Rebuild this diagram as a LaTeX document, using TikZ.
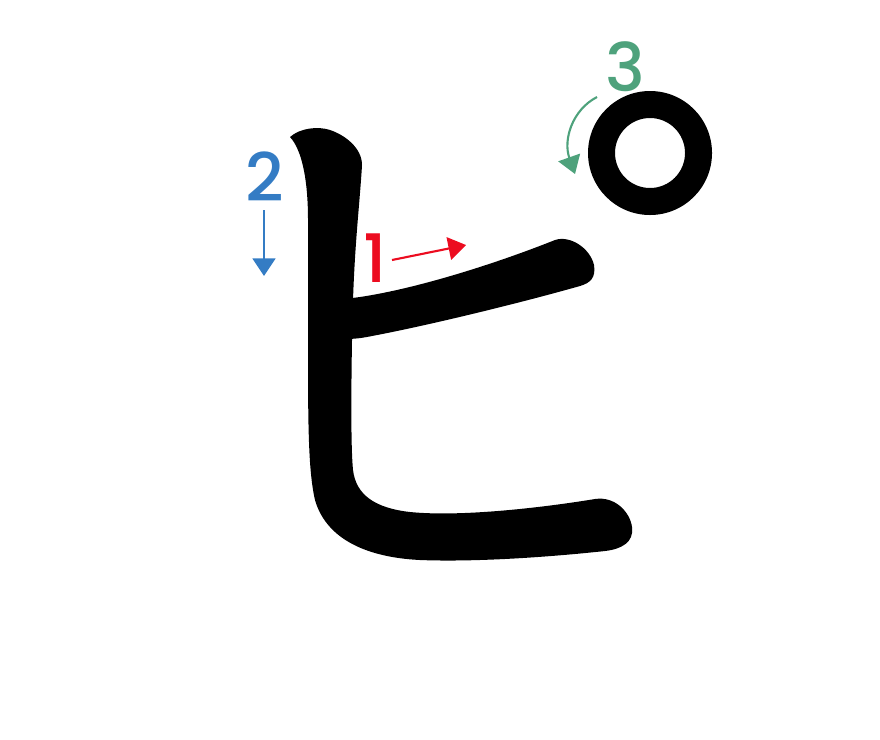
\documentclass[tikz,border=0pt]{standalone}
\usepackage{fontspec}
\newfontfamily\numfont{Poppins}[UprightFont=* Medium]
\usetikzlibrary{arrows.meta}
\definecolor{strokeone}{RGB}{236,12,32}
\definecolor{stroketwo}{RGB}{52,124,196}
\definecolor{strokethree}{RGB}{78,162,124}
\tikzset{
  num/.style={font=\numfont\fontsize{19}{19}\selectfont, inner sep=0pt},
  order/.style={line width=0.6pt, -{Triangle[length=5pt, width=6.5pt]}}
}
\begin{document}
\begin{tikzpicture}[x=0.01cm, y=-0.01cm]
            \useasboundingbox (0,0) rectangle (880,739);

            % stroke 2: vertical and bottom
            \fill[black] (290,137) .. controls (300,128) and (318,126) .. (330,130)
              .. controls (345,135) and (362,148) .. (362,165)
              .. controls (360,200) and (355,240) .. (353,300)
              -- (352,340)
              .. controls (351,400) and (351,450) .. (353,470)
              .. controls (356,495) and (375,508) .. (410,512)
              .. controls (460,517) and (540,508) .. (595,499)
              .. controls (615,496) and (630,512) .. (632,527)
              .. controls (634,542) and (622,549) .. (605,551)
              .. controls (540,558) and (470,562) .. (420,560)
              .. controls (360,557) and (325,535) .. (315,500)
              .. controls (308,470) and (308,420) .. (308,340)
              -- (308,220)
              .. controls (308,180) and (302,150) .. (290,137) -- cycle;

            % stroke 1: horizontal
            \fill[black] (345,299) -- (360,297)
              .. controls (420,288) and (500,262) .. (555,240)
              .. controls (570,235) and (590,248) .. (594,265)
              .. controls (596,278) and (590,283) .. (580,286)
              .. controls (520,303) and (430,325) .. (372,336)
              .. controls (362,338) and (355,339) .. (345,339) -- cycle;

            % stroke 3: handakuten
            \fill[black, even odd rule] (650,153) circle[radius=62] (650,153) circle[radius=35];

            % numbers
            \node[num, text=strokeone] (n1) at (375,258) {1};
            \node[num, text=stroketwo] (n2) at (265,177) {2};
            \node[num, text=strokethree] (n3) at (625,67) {3};

            % direction arrows
            \coordinate (a1s) at (392,260);
            \coordinate (a1e) at (466,245);
            \coordinate (a2s) at (264,210);
            \coordinate (a2e) at (264,276);
            \coordinate (a3s) at (597,97);
            \coordinate (a3e) at (575,174);
            \draw[order, strokeone] (a1s) -- (a1e);
            \draw[order, stroketwo] (a2s) -- (a2e);
            \draw[order, strokethree] (a3s) .. controls (572,110) and (563,140) .. (a3e);
\end{tikzpicture}
\end{document}
